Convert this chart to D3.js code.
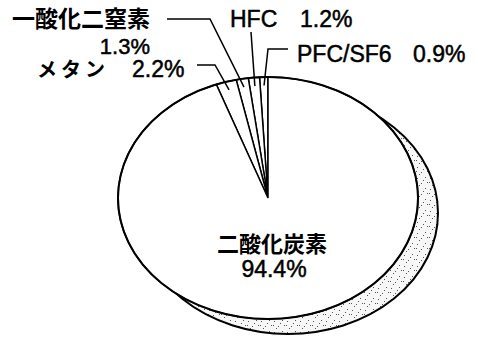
<!DOCTYPE html>
<html>
<head>
<meta charset="utf-8">
<script src="https://cdn.jsdelivr.net/npm/d3@7"></script>
<style>
  html, body { margin: 0; padding: 0; background: #fff; }
  svg { display: block; }
  .jp { font-family: "Noto Sans CJK JP", sans-serif; font-weight: 700; }
  .num { font-family: "Liberation Sans", Arial, sans-serif; stroke: #000; stroke-width: 0.5px; }
</style>
</head>
<body>
<svg id="chart" width="478" height="337"></svg>
<script>
// Greenhouse gas shares (%), drawn counter-clockwise from 12 o'clock
const gases  = ["PFC/SF6", "HFC", "一酸化二窒素", "メタン", "二酸化炭素"];
const shares = [0.9, 1.2, 1.3, 2.2, 94.4];
const shareLabels = ["0.9%", "1.2%", "1.3%", "2.2%", "94.4%"];

const W = 478, H = 337;
const cx = 268, cy = 198, rx = 150, ry = 121;
const depthX = 20, depthY = 15;
const R = 100; // unit radius, squashed into the ellipse by the group transform

const svg = d3.select("#chart");

// speckled texture for the pie's side
const defs = svg.append("defs");
const pat = defs.append("pattern")
  .attr("id", "speckle").attr("patternUnits", "userSpaceOnUse")
  .attr("width", 13).attr("height", 11);
pat.append("rect").attr("width", 13).attr("height", 11).attr("fill", "#f7f7f7");
const dots = [[1,2],[5,7],[9,1],[11,6],[3,9],[7,4],[0,6]];
pat.selectAll("rect.d").data(dots).join("rect")
  .attr("class", "d").attr("x", d => d[0]).attr("y", d => d[1])
  .attr("width", 1).attr("height", 1).attr("fill", "#555");

const pie = d3.pie().sort(null).startAngle(0).endAngle(-2 * Math.PI);
const arcs = pie(shares);
const arc = d3.arc().innerRadius(0).outerRadius(R);

// side (shadow) of the pie
svg.append("ellipse")
  .attr("cx", cx + depthX).attr("cy", cy + depthY)
  .attr("rx", rx).attr("ry", ry)
  .attr("fill", "url(#speckle)")
  .attr("stroke", "#000").attr("stroke-width", 2);

// top face
const face = svg.append("g")
  .attr("transform", `translate(${cx},${cy}) scale(${rx / R},${ry / R})`);
face.selectAll("path.slice").data(arcs).join("path")
  .attr("class", "slice")
  .attr("d", arc)
  .attr("fill", "#fff")
  .attr("stroke", "#000")
  .attr("stroke-width", 1.5)
  .attr("stroke-linejoin", "miter")
  .attr("vector-effect", "non-scaling-stroke");
face.append("ellipse")
  .attr("rx", R).attr("ry", R)
  .attr("fill", "none").attr("stroke", "#000").attr("stroke-width", 2)
  .attr("vector-effect", "non-scaling-stroke");

// point inside a slice, near the rim, in page coordinates
function rimPoint(a, k) {
  const m = (a.startAngle + a.endAngle) / 2;
  return [cx + rx * k * Math.sin(m), cy - ry * k * Math.cos(m)];
}

// leader lines: elbow points for each small slice
const leaders = [
  { i: 0, pts: [[288, 49], [268, 49]] },
  { i: 1, pts: [[251, 32]] },
  { i: 2, pts: [[167, 19], [210, 19]] },
  { i: 3, pts: [[197, 65], [215, 65]] }
];
const line = d3.line();
svg.selectAll("path.leader").data(leaders).join("path")
  .attr("class", "leader")
  .attr("d", d => line(d.pts.concat([rimPoint(arcs[d.i], 0.93)])))
  .attr("fill", "none").attr("stroke", "#000").attr("stroke-width", 1.5);

// labels
const txt = (x, y, s, cls, size, anchor) =>
  svg.append("text").attr("x", x).attr("y", y).attr("class", cls)
    .attr("font-size", size).attr("text-anchor", anchor || "start").text(s);

txt(12, 27, gases[2], "jp", 23);
txt(150, 54, shareLabels[2], "num", 22, "end");
txt(37, 77, gases[3], "jp", 20).attr("letter-spacing", 4);
txt(132, 77, shareLabels[3], "num", 23);
txt(230, 27, gases[1], "num", 23);
txt(300, 27, shareLabels[1], "num", 23);
txt(297, 62, gases[0], "num", 23);
txt(413, 62, shareLabels[0], "num", 23);
txt(272, 252, gases[4], "jp", 22, "middle");
txt(274, 277, shareLabels[4], "num", 23, "middle");
</script>
</body>
</html>
